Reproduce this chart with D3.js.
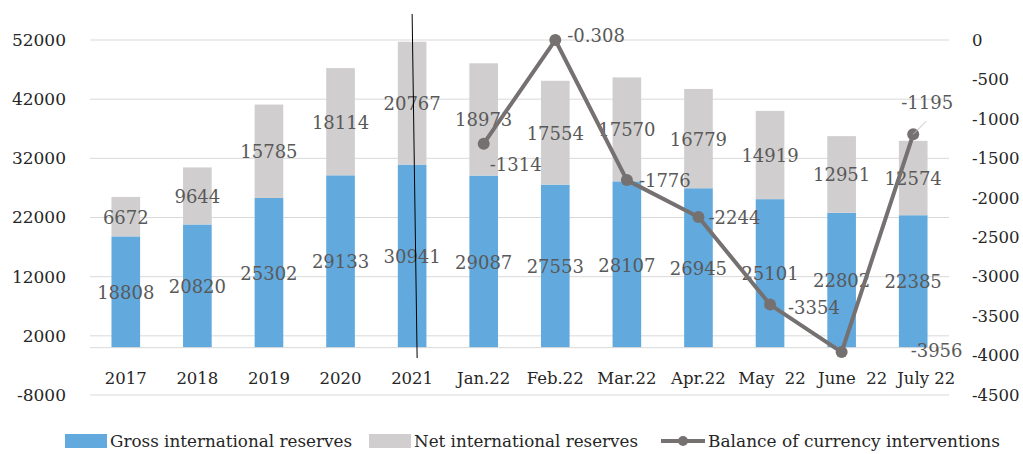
<!DOCTYPE html>
<html>
<head>
<meta charset="utf-8">
<script src="https://cdn.jsdelivr.net/npm/d3@7"></script>
<style>
  html, body { margin: 0; padding: 0; background: #ffffff; }
  svg { display: block; font-family: "DejaVu Serif", serif; }
</style>
</head>
<body>
<div id="chart"></div>
<script>
// Chart data
const categories = ["2017", "2018", "2019", "2020", "2021", "Jan.22", "Feb.22", "Mar.22", "Apr.22", "May\u00a0 22", "June\u00a0 22", "July 22"];
const grossReserves = [18808, 20820, 25302, 29133, 30941, 29087, 27553, 28107, 26945, 25101, 22802, 22385];
const netReserves = [6672, 9644, 15785, 18114, 20767, 18973, 17554, 17570, 16779, 14919, 12951, 12574];
const interventionCats = categories.slice(5);
const interventions = [-1314, -0.308, -1776, -2244, -3354, -3956, -1195];
const interventionLabels = ["-1314", "-0.308", "-1776", "-2244", "-3354", "-3956", "-1195"];
const leftTicks = [-8000, 2000, 12000, 22000, 32000, 42000, 52000];
const rightTicks = [0, -500, -1000, -1500, -2000, -2500, -3000, -3500, -4000, -4500];

const width = 1023, height = 454;
const margin = { top: 40, right: 74, bottom: 59, left: 90 };

const svg = d3.select("#chart").append("svg")
    .attr("width", width)
    .attr("height", height);

const x = d3.scaleBand()
    .domain(categories)
    .range([margin.left, width - margin.right])
    .paddingInner(0.6)
    .paddingOuter(0.3);

const yLeft = d3.scaleLinear()
    .domain([-8000, 52000])
    .range([height - margin.bottom, margin.top]);

const yRight = d3.scaleLinear()
    .domain([-4500, 0])
    .range([height - margin.bottom, margin.top]);

const gridX0 = margin.left, gridX1 = width - margin.right;
const plainNum = d => String(d);

// Gridlines
svg.append("g")
    .selectAll("line")
    .data(leftTicks)
    .join("line")
    .attr("x1", gridX0).attr("x2", gridX1)
    .attr("y1", d => yLeft(d)).attr("y2", d => yLeft(d))
    .attr("stroke", "#d9d9d9")
    .attr("stroke-width", 1);

// Left axis
const leftAxis = svg.append("g")
    .attr("transform", `translate(${margin.left - 24},0)`)
    .call(d3.axisLeft(yLeft).tickValues(leftTicks).tickSize(0).tickPadding(0).tickFormat(plainNum));
leftAxis.select(".domain").remove();
leftAxis.selectAll("text")
    .attr("font-family", "DejaVu Serif")
    .attr("font-size", 17)
    .attr("fill", "#262626");

// Right axis
const rightAxis = svg.append("g")
    .attr("transform", `translate(${width - margin.right + 23},0)`)
    .call(d3.axisRight(yRight).tickValues(rightTicks).tickSize(0).tickPadding(0).tickFormat(plainNum));
rightAxis.select(".domain").remove();
rightAxis.selectAll("text")
    .attr("font-family", "DejaVu Serif")
    .attr("font-size", 16.5)
    .attr("fill", "#262626");

// Stacked bars
const stackData = categories.map((c, i) => ({ cat: c, gross: grossReserves[i], net: netReserves[i] }));
const series = d3.stack().keys(["gross", "net"])(stackData);
const barColors = { gross: "#62a9de", net: "#d0cece" };

series.forEach(s => {
    svg.append("g")
        .selectAll("rect")
        .data(s)
        .join("rect")
        .attr("x", d => x(d.data.cat))
        .attr("width", x.bandwidth())
        .attr("y", d => yLeft(d[1]))
        .attr("height", d => yLeft(d[0]) - yLeft(d[1]))
        .attr("fill", barColors[s.key]);
});

// Category axis line at zero
svg.append("line")
    .attr("x1", gridX0).attr("x2", gridX1)
    .attr("y1", yLeft(0)).attr("y2", yLeft(0))
    .attr("stroke", "#d9d9d9")
    .attr("stroke-width", 1);

// Category labels (the last few sit a little right of their bars, as in the original)
const labelShift = { 9: 2, 10: 11, 11: 13 };
svg.append("g")
    .selectAll("text")
    .data(categories)
    .join("text")
    .attr("x", (d, i) => x(d) + x.bandwidth() / 2 + (labelShift[i] || 0))
    .attr("y", yLeft(0) + 36)
    .attr("text-anchor", "middle")
    .attr("font-size", 16.5)
    .attr("fill", "#262626")
    .text(d => d);

// Bar value labels
series.forEach(s => {
    svg.append("g")
        .selectAll("text")
        .data(s)
        .join("text")
        .attr("x", d => x(d.data.cat) + x.bandwidth() / 2)
        .attr("y", d => (yLeft(d[0]) + yLeft(d[1])) / 2 + 7)
        .attr("text-anchor", "middle")
        .attr("font-size", 18)
        .attr("fill", "#595959")
        .text(d => d.data[s.key]);
});

// Black vertical marker line through 2021
const cx2021 = x("2021") + x.bandwidth() / 2;
svg.append("line")
    .attr("x1", cx2021).attr("y1", yLeft(56400))
    .attr("x2", cx2021 + 5).attr("y2", yLeft(-1750))
    .attr("stroke", "#000000")
    .attr("stroke-width", 1);

// Intervention line
const lineColor = "#767171";
const pts = interventionCats.map((c, i) => ({
    cat: c, value: interventions[i], label: interventionLabels[i],
    px: x(c) + x.bandwidth() / 2, py: yRight(interventions[i])
}));

svg.append("path")
    .datum(pts)
    .attr("fill", "none")
    .attr("stroke", lineColor)
    .attr("stroke-width", 4)
    .attr("stroke-linejoin", "round")
    .attr("d", d3.line().x(d => d.px).y(d => d.py));

svg.append("g")
    .selectAll("circle")
    .data(pts)
    .join("circle")
    .attr("cx", d => d.px)
    .attr("cy", d => d.py)
    .attr("r", 6)
    .attr("fill", lineColor);

// Label offsets for the intervention values
const labelOffsets = [
    { dx: 6, dy: 27 },
    { dx: 12, dy: 2 },
    { dx: 12, dy: 7 },
    { dx: 10, dy: 7 },
    { dx: 18, dy: 9 },
    { dx: 69, dy: 5 },
    { dx: -12, dy: -25 }
];

// Leader line for July label
const july = pts[pts.length - 1];
svg.append("line")
    .attr("x1", july.px).attr("y1", july.py)
    .attr("x2", july.px + 13).attr("y2", july.py - 13)
    .attr("stroke", "#bfbfbf")
    .attr("stroke-width", 1);

svg.append("g")
    .selectAll("text")
    .data(pts)
    .join("text")
    .attr("x", (d, i) => d.px + labelOffsets[i].dx)
    .attr("y", (d, i) => d.py + labelOffsets[i].dy)
    .attr("font-size", 18)
    .attr("fill", "#595959")
    .text(d => d.label);

// Legend
const legendY = 441;
const legend = svg.append("g").attr("font-size", 17).attr("fill", "#262626");

legend.append("rect").attr("x", 65).attr("y", legendY - 7).attr("width", 42).attr("height", 14).attr("fill", barColors.gross);
legend.append("text").attr("x", 110).attr("y", legendY + 6)
    .attr("textLength", 242).attr("lengthAdjust", "spacingAndGlyphs")
    .text("Gross international reserves");

legend.append("rect").attr("x", 369).attr("y", legendY - 7).attr("width", 42).attr("height", 14).attr("fill", barColors.net);
legend.append("text").attr("x", 414).attr("y", legendY + 6)
    .attr("textLength", 224).attr("lengthAdjust", "spacingAndGlyphs")
    .text("Net international reserves");

legend.append("line").attr("x1", 661).attr("x2", 705).attr("y1", legendY).attr("y2", legendY)
    .attr("stroke", lineColor).attr("stroke-width", 4);
legend.append("circle").attr("cx", 683).attr("cy", legendY).attr("r", 5).attr("fill", lineColor);
legend.append("text").attr("x", 708).attr("y", legendY + 6)
    .attr("textLength", 292).attr("lengthAdjust", "spacingAndGlyphs")
    .text("Balance of currency interventions");
</script>
</body>
</html>
